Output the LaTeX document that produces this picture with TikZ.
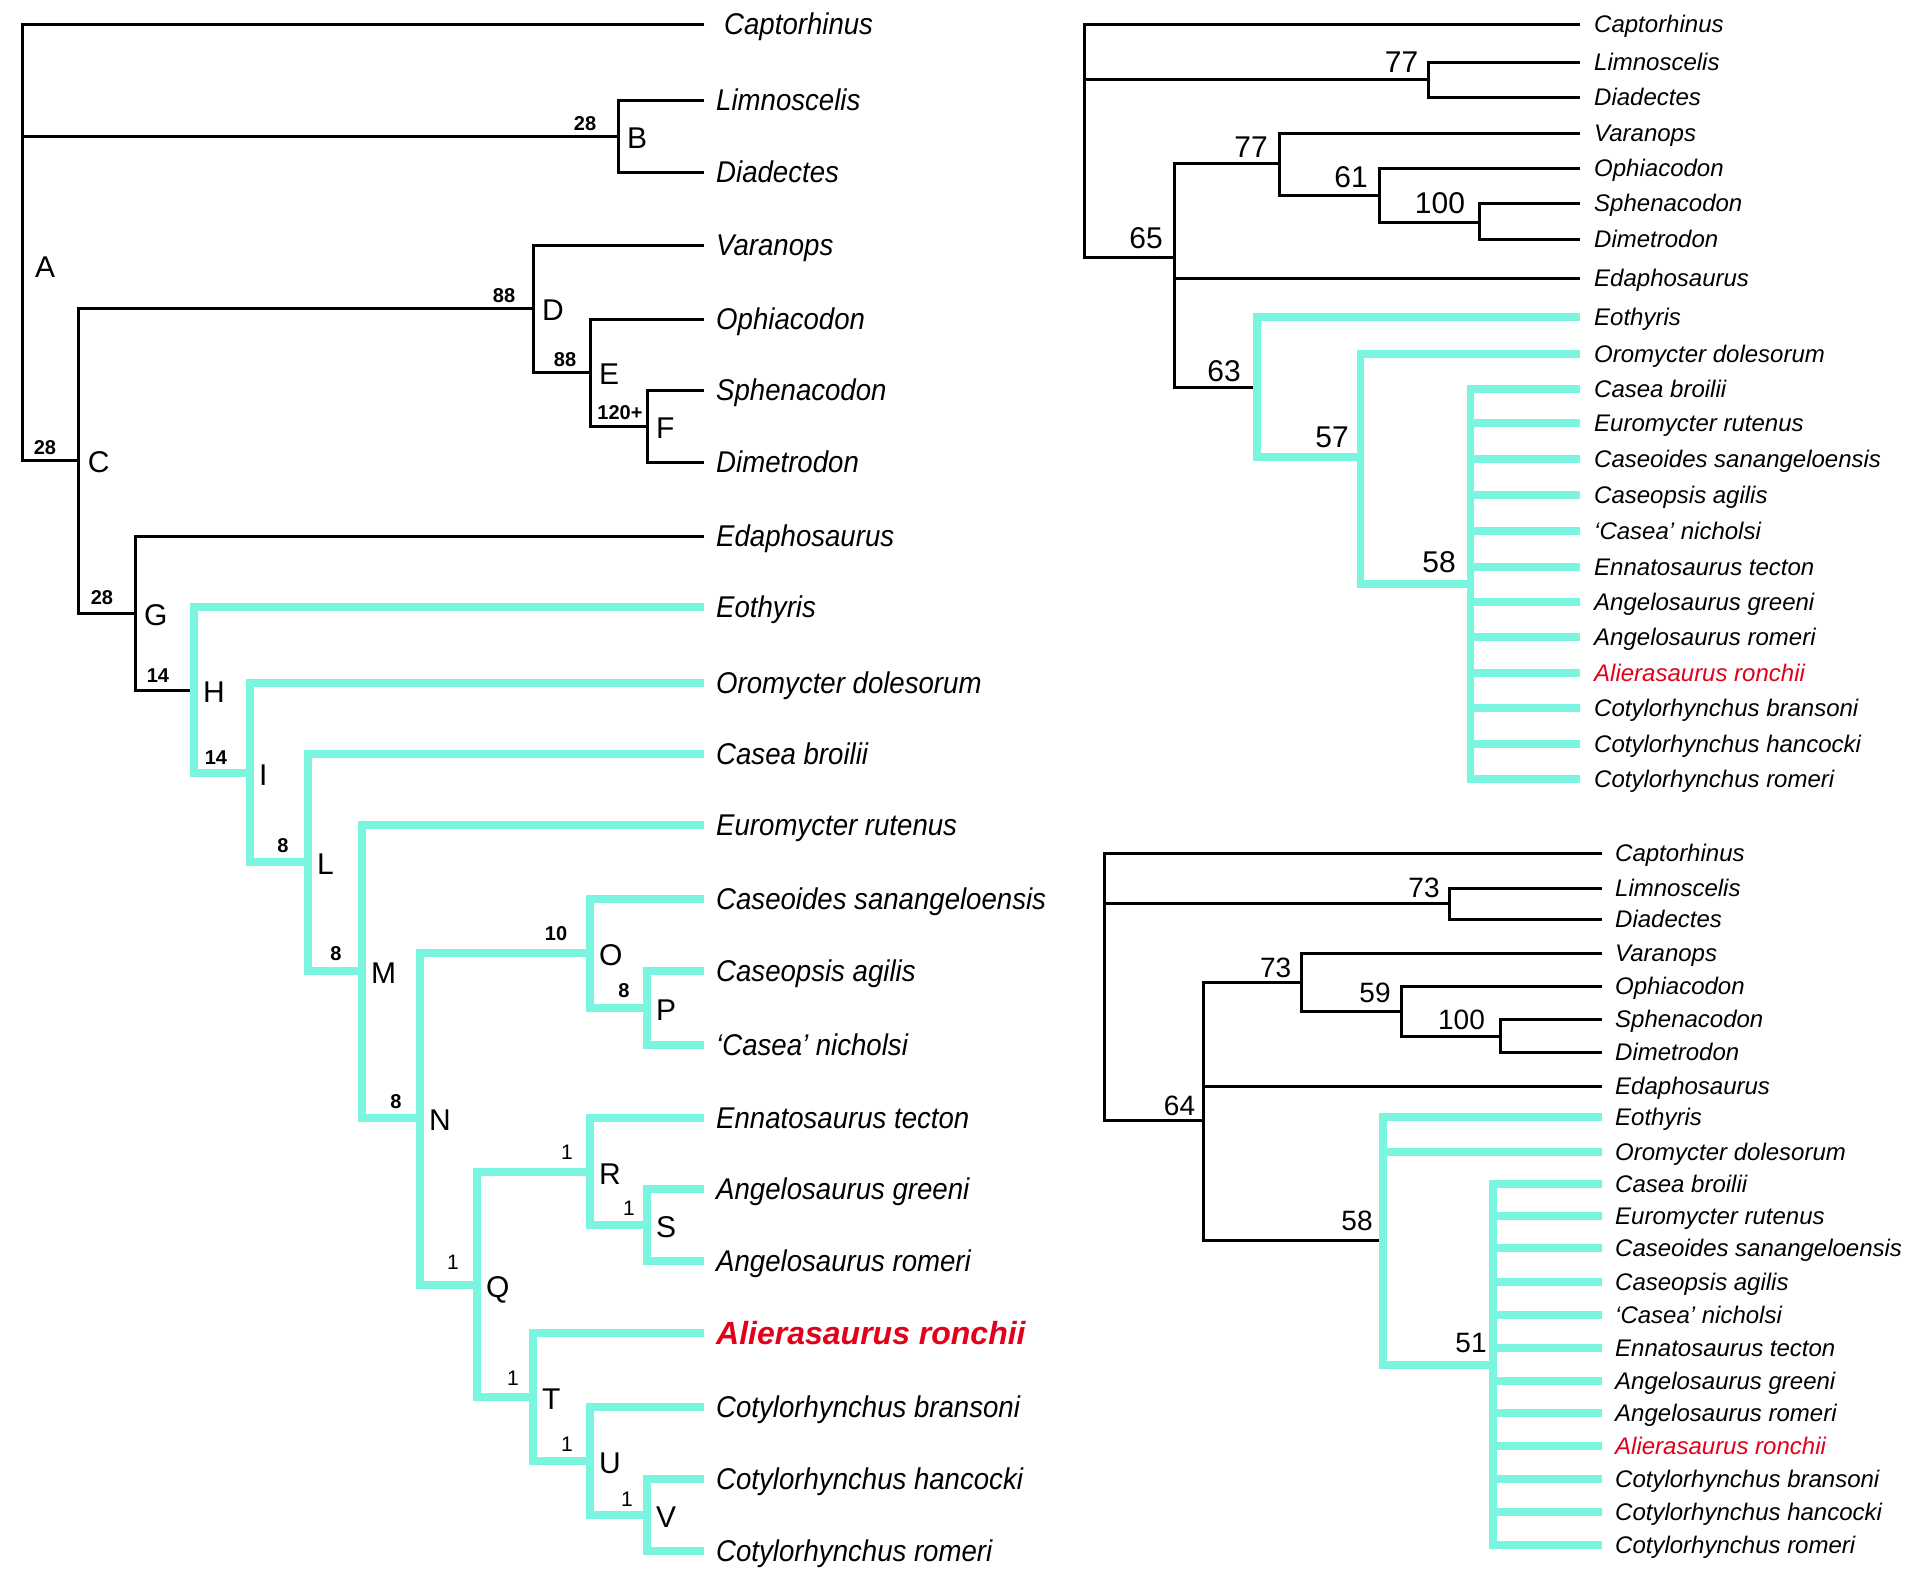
\documentclass[tikz,border=0pt]{standalone}
\usepackage{fontspec}
\setmainfont{Liberation Sans}
\newfontfamily\ltaxfont[FakeStretch=0.92]{Liberation Sans}
\definecolor{cy}{RGB}{122,245,224}
\definecolor{rd}{RGB}{226,0,26}
\begin{document}
\begin{tikzpicture}[x=1pt,y=-1pt,
 blk/.style={line width=3pt,draw=black,line join=miter},
 cyn/.style={line width=7.5pt,draw=cy,line join=miter},
 ltax/.style={anchor=west,inner sep=0pt,font=\ltaxfont\itshape\fontsize{30}{32}\selectfont,text height=21.5pt,text depth=0pt},
 rtax/.style={anchor=west,inner sep=0pt,font=\itshape\fontsize{24}{26}\selectfont,text height=17.2pt,text depth=0pt},
 nlet/.style={anchor=west,inner sep=0pt,font=\fontsize{30}{32}\selectfont,text height=21.5pt,text depth=0pt},
 bsup/.style={inner sep=0pt,font=\bfseries\fontsize{20}{22}\selectfont,text height=14.3pt,text depth=0pt},
 osup/.style={inner sep=0pt,font=\fontsize{21}{23}\selectfont,text height=15pt,text depth=0pt},
 tsup/.style={inner sep=0pt,font=\fontsize{30}{32}\selectfont,text height=21.5pt,text depth=0pt},
 usup/.style={inner sep=0pt,font=\fontsize{28}{30}\selectfont,text height=20pt,text depth=0pt}]
\fill[white] (0,0) rectangle (1932,1588);
\useasboundingbox (0,0) rectangle (1932,1588);

% ================= LEFT TREE =================
\foreach \n/\y/\t/\lx in {Capt/24/Captorhinus/724, Limn/100/Limnoscelis/716, Diad/172/Diadectes/716,
  Vara/245/Varanops/716, Ophi/319/Ophiacodon/716, Sphe/390/Sphenacodon/716, Dime/462/Dimetrodon/716,
  Edap/536/Edaphosaurus/716, Eoth/607/Eothyris/716, Orom/683/Oromycter dolesorum/716,
  CasB/754/Casea broilii/716, Euro/825/Euromycter rutenus/716, Cdes/899/Caseoides sanangeloensis/716,
  Cpsi/971/Caseopsis agilis/716, Cnic/1045/‘Casea’ nicholsi/716, Enna/1118/Ennatosaurus tecton/716,
  Agre/1189/Angelosaurus greeni/716, Arom/1261/Angelosaurus romeri/716,
  Cbra/1407/Cotylorhynchus bransoni/716, Chan/1479/Cotylorhynchus hancocki/716, Crom/1551/Cotylorhynchus romeri/716}
{
  \coordinate (l\n) at (704,\y);
  \node[ltax] (l\n-t) at (\lx,\y) {\t};
}
\coordinate (lAlie) at (704,1333);
\node[ltax,font=\bfseries\itshape\fontsize{32}{34}\selectfont,text height=22.9pt,text=rd] (lAlie-t) at (716,1333) {Alierasaurus ronchii};

\coordinate (lA) at (22,267);
\coordinate (lB) at (618,136);
\coordinate (lC) at (78.6,460);
\coordinate (lD) at (533,308);
\coordinate (lE) at (590,372);
\coordinate (lF) at (647,426);
\coordinate (lG) at (135,613);
\coordinate (lH) at (194,690);
\coordinate (lI) at (250,773);
\coordinate (lL) at (308,862);
\coordinate (lM) at (362,971);
\coordinate (lN) at (420,1118);
\coordinate (lO) at (590,953);
\coordinate (lP) at (647,1008);
\coordinate (lQ) at (477,1285);
\coordinate (lR) at (590,1172);
\coordinate (lS) at (647,1225);
\coordinate (lT) at (533,1397);
\coordinate (lU) at (590,1461);
\coordinate (lV) at (647,1515);

\draw[blk] (lCapt) -| (lA) |- (lC);
\draw[blk] (lA |- lB) -- (lB);
\draw[blk] (lLimn) -| (lB) |- (lDiad);
\draw[blk] (lD) -| (lC) |- (lG);
\draw[blk] (lVara) -| (lD) |- (lE);
\draw[blk] (lOphi) -| (lE) |- (lF);
\draw[blk] (lSphe) -| (lF) |- (lDime);
\draw[blk] (lEdap) -| (lG) |- (lH);
\draw[cyn] (lEoth) -| (lH) |- (lI);
\draw[cyn] (lOrom) -| (lI) |- (lL);
\draw[cyn] (lCasB) -| (lL) |- (lM);
\draw[cyn] (lEuro) -| (lM) |- (lN);
\draw[cyn] (lO) -| (lN) |- (lQ);
\draw[cyn] (lCdes) -| (lO) |- (lP);
\draw[cyn] (lCpsi) -| (lP) |- (lCnic);
\draw[cyn] (lR) -| (lQ) |- (lT);
\draw[cyn] (lEnna) -| (lR) |- (lS);
\draw[cyn] (lAgre) -| (lS) |- (lArom);
\draw[cyn] (lAlie) -| (lT) |- (lU);
\draw[cyn] (lCbra) -| (lU) |- (lV);
\draw[cyn] (lChan) -| (lV) |- (lCrom);

% node letters
\node[nlet] (lA-n) at (35,267) {A};
\foreach \n/\l in {B/B,C/C,D/D,E/E,F/F,G/G,H/H,I/I,L/L,M/M,N/N,O/O,P/P,Q/Q,R/R,S/S,T/T,U/U,V/V}
{ \node[nlet] (l\n-n) at ([shift={(9,1.5)}]l\n) {\l}; }

% support values
\node[bsup] (lB-s) at (585,123) {28};
\node[bsup] (lC-s) at (45,447) {28};
\node[bsup] (lD-s) at (504,295) {88};
\node[bsup] (lE-s) at (565,359) {88};
\node[bsup] (lF-s) at (620,412) {120+};
\node[bsup] (lG-s) at (102,597) {28};
\node[bsup] (lH-s) at (158,675) {14};
\node[bsup] (lI-s) at (216,757) {14};
\node[bsup] (lL-s) at (283,845) {8};
\node[bsup] (lM-s) at (336,953) {8};
\node[bsup] (lN-s) at (396,1101) {8};
\node[bsup] (lO-s) at (556,933) {10};
\node[bsup] (lP-s) at (624,990) {8};
\node[osup] (lQ-s) at (453,1262) {1};
\node[osup] (lR-s) at (567,1152) {1};
\node[osup] (lS-s) at (629,1208) {1};
\node[osup] (lT-s) at (513,1378) {1};
\node[osup] (lU-s) at (567,1444) {1};
\node[osup] (lV-s) at (627,1499) {1};

% ================= TOP RIGHT TREE =================
\foreach \n/\y/\t in {Capt/24/Captorhinus, Limn/62/Limnoscelis, Diad/97/Diadectes,
  Vara/133/Varanops, Ophi/168/Ophiacodon, Sphe/203/Sphenacodon, Dime/239/Dimetrodon,
  Edap/278/Edaphosaurus, Eoth/317/Eothyris, Orom/354/Oromycter dolesorum,
  CasB/389/Casea broilii, Euro/423/Euromycter rutenus, Cdes/459/Caseoides sanangeloensis,
  Cpsi/495/Caseopsis agilis, Cnic/531/‘Casea’ nicholsi, Enna/567/Ennatosaurus tecton,
  Agre/602/Angelosaurus greeni, Arom/637/Angelosaurus romeri,
  Cbra/708/Cotylorhynchus bransoni, Chan/744/Cotylorhynchus hancocki, Crom/779/Cotylorhynchus romeri}
{
  \coordinate (t\n) at (1580,\y);
  \node[rtax] (t\n-t) at (1594,\y) {\t};
}
\coordinate (tAlie) at (1580,673);
\node[rtax,text=rd] (tAlie-t) at (1594,673) {Alierasaurus ronchii};

\coordinate (tA) at (1084,140);
\coordinate (t77a) at (1428.5,79);
\coordinate (t65) at (1174,257);
\coordinate (t77b) at (1279.5,163);
\coordinate (t61) at (1379.6,195);
\coordinate (t100) at (1479,222);
\coordinate (t63) at (1257,387);
\coordinate (t57) at (1360.5,457);
\coordinate (t58) at (1470.7,584);

\draw[blk] (tCapt) -| (tA) |- (t65);
\draw[blk] (tA |- t77a) -- (t77a);
\draw[blk] (tLimn) -| (t77a) |- (tDiad);
\draw[blk] (t77b) -| (t65) |- (t63);
\draw[blk] (t65 |- tEdap) -- (tEdap);
\draw[blk] (tVara) -| (t77b) |- (t61);
\draw[blk] (tOphi) -| (t61) |- (t100);
\draw[blk] (tSphe) -| (t100) |- (tDime);
\draw[cyn] (tEoth) -| (t63) |- (t57);
\draw[cyn] (tOrom) -| (t57) |- (t58);
\draw[cyn] (tCasB) -| (t58) |- (tCrom);
\foreach \n in {Euro,Cdes,Cpsi,Cnic,Enna,Agre,Arom,Alie,Cbra,Chan}
{ \draw[cyn] (t58 |- t\n) -- (t\n); }

\node[tsup] (t77a-s) at (1401.5,62) {77};
\node[tsup] (t77b-s) at (1251,147) {77};
\node[tsup] (t65-s) at (1146,238) {65};
\node[tsup] (t61-s) at (1351,177) {61};
\node[tsup] (t100-s) at (1440,203) {100};
\node[tsup] (t63-s) at (1224,371) {63};
\node[tsup] (t57-s) at (1332,437) {57};
\node[tsup] (t58-s) at (1439,562) {58};

% ================= BOTTOM RIGHT TREE =================
\foreach \n/\y/\t in {Capt/853/Captorhinus, Limn/888/Limnoscelis, Diad/919/Diadectes,
  Vara/953/Varanops, Ophi/986/Ophiacodon, Sphe/1019/Sphenacodon, Dime/1052/Dimetrodon,
  Edap/1086/Edaphosaurus, Eoth/1117/Eothyris, Orom/1152/Oromycter dolesorum,
  CasB/1184/Casea broilii, Euro/1216/Euromycter rutenus, Cdes/1248/Caseoides sanangeloensis,
  Cpsi/1282/Caseopsis agilis, Cnic/1315/‘Casea’ nicholsi, Enna/1348/Ennatosaurus tecton,
  Agre/1381/Angelosaurus greeni, Arom/1413/Angelosaurus romeri,
  Cbra/1479/Cotylorhynchus bransoni, Chan/1512/Cotylorhynchus hancocki, Crom/1545/Cotylorhynchus romeri}
{
  \coordinate (b\n) at (1602,\y);
  \node[rtax] (b\n-t) at (1615,\y) {\t};
}
\coordinate (bAlie) at (1602,1446);
\node[rtax,text=rd] (bAlie-t) at (1615,1446) {Alierasaurus ronchii};

\coordinate (bA) at (1104.5,990);
\coordinate (b73a) at (1449.6,903);
\coordinate (b64) at (1203,1120);
\coordinate (b73b) at (1301,982);
\coordinate (b59) at (1401,1011);
\coordinate (b100) at (1500.6,1036);
\coordinate (b58) at (1383,1240);
\coordinate (b51) at (1493,1365);

\draw[blk] (bCapt) -| (bA) |- (b64);
\draw[blk] (bA |- b73a) -- (b73a);
\draw[blk] (bLimn) -| (b73a) |- (bDiad);
\draw[blk] (b73b) -| (b64) |- (b58);
\draw[blk] (b64 |- bEdap) -- (bEdap);
\draw[blk] (bVara) -| (b73b) |- (b59);
\draw[blk] (bOphi) -| (b59) |- (b100);
\draw[blk] (bSphe) -| (b100) |- (bDime);
\draw[cyn] (bEoth) -| (b58) |- (b51);
\draw[cyn] (b58 |- bOrom) -- (bOrom);
\draw[cyn] (bCasB) -| (b51) |- (bCrom);
\foreach \n in {Euro,Cdes,Cpsi,Cnic,Enna,Agre,Arom,Alie,Cbra,Chan}
{ \draw[cyn] (b51 |- b\n) -- (b\n); }

\node[usup] (b73a-s) at (1424,887) {73};
\node[usup] (b64-s) at (1179.5,1105) {64};
\node[usup] (b73b-s) at (1275.6,967) {73};
\node[usup] (b59-s) at (1375,992) {59};
\node[usup] (b100-s) at (1461.5,1019) {100};
\node[usup] (b58-s) at (1357,1220) {58};
\node[usup] (b51-s) at (1471,1342) {51};
\end{tikzpicture}
\end{document}
